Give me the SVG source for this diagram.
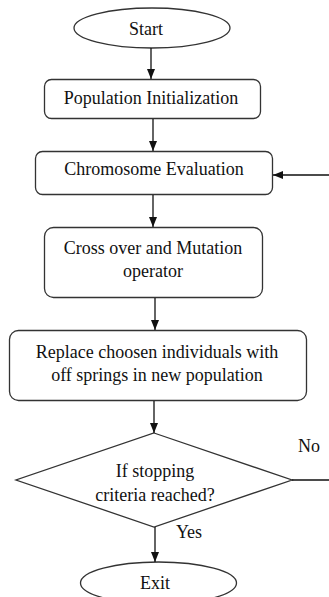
<svg xmlns="http://www.w3.org/2000/svg" width="329" height="597" viewBox="0 0 329 597">
<defs>
<marker id="arr" markerWidth="10" markerHeight="8" refX="10" refY="4" orient="auto" markerUnits="userSpaceOnUse">
<path d="M0,0 L10,4 L0,8 Z" fill="#111"/>
</marker>
<style>
.shape{fill:#fff;stroke:#333;stroke-width:1.3}
.lbl{font-family:'Liberation Serif','Times New Roman',serif;font-size:18px;fill:#111;text-anchor:middle}
.edge{fill:none;stroke:#111;stroke-width:1.3}
</style>
</defs>
<rect width="329" height="597" fill="#fff"/>
<g id="start">
<ellipse class="shape" cx="152" cy="28" rx="78" ry="20"/>
<text class="lbl" x="146" y="35">Start</text>
</g>
<g id="init">
<rect class="shape" x="44.5" y="79.5" width="216" height="39" rx="7"/>
<text class="lbl" x="151" y="104">Population Initialization</text>
</g>
<g id="eval">
<rect class="shape" x="35.5" y="151.5" width="237" height="43" rx="7"/>
<text class="lbl" x="154" y="175">Chromosome Evaluation</text>
</g>
<g id="cross">
<rect class="shape" x="44.5" y="227.5" width="218" height="70" rx="9"/>
<text class="lbl" x="153" y="254">Cross over and Mutation</text>
<text class="lbl" x="153" y="277">operator</text>
</g>
<g id="replace">
<rect class="shape" x="9.5" y="330.5" width="297" height="70" rx="9"/>
<text class="lbl" x="157" y="358">Replace choosen individuals with</text>
<text class="lbl" x="157" y="381">off springs in new population</text>
</g>
<g id="decision">
<polygon class="shape" points="154,433 292,480 154,527 16,480"/>
<text class="lbl" x="155" y="477">If stopping</text>
<text class="lbl" x="155" y="501">criteria reached?</text>
</g>
<g id="exit">
<ellipse class="shape" cx="158.5" cy="583" rx="78" ry="21"/>
<text class="lbl" x="155" y="589">Exit</text>
</g>
<g id="connectors">
<line class="edge" x1="151" y1="48" x2="151" y2="79" marker-end="url(#arr)"/>
<line class="edge" x1="153" y1="119" x2="153" y2="151" marker-end="url(#arr)"/>
<line class="edge" x1="153" y1="195" x2="153" y2="227" marker-end="url(#arr)"/>
<line class="edge" x1="155" y1="298" x2="155" y2="330" marker-end="url(#arr)"/>
<line class="edge" x1="154" y1="401" x2="154" y2="433" marker-end="url(#arr)"/>
<line class="edge" x1="155" y1="527" x2="155" y2="562" marker-end="url(#arr)"/>
<path class="edge" d="M292,480 H340 V175 H273" marker-end="url(#arr)"/>
<text class="lbl" x="309" y="452">No</text>
<text class="lbl" x="189" y="538">Yes</text>
</g>
</svg>
